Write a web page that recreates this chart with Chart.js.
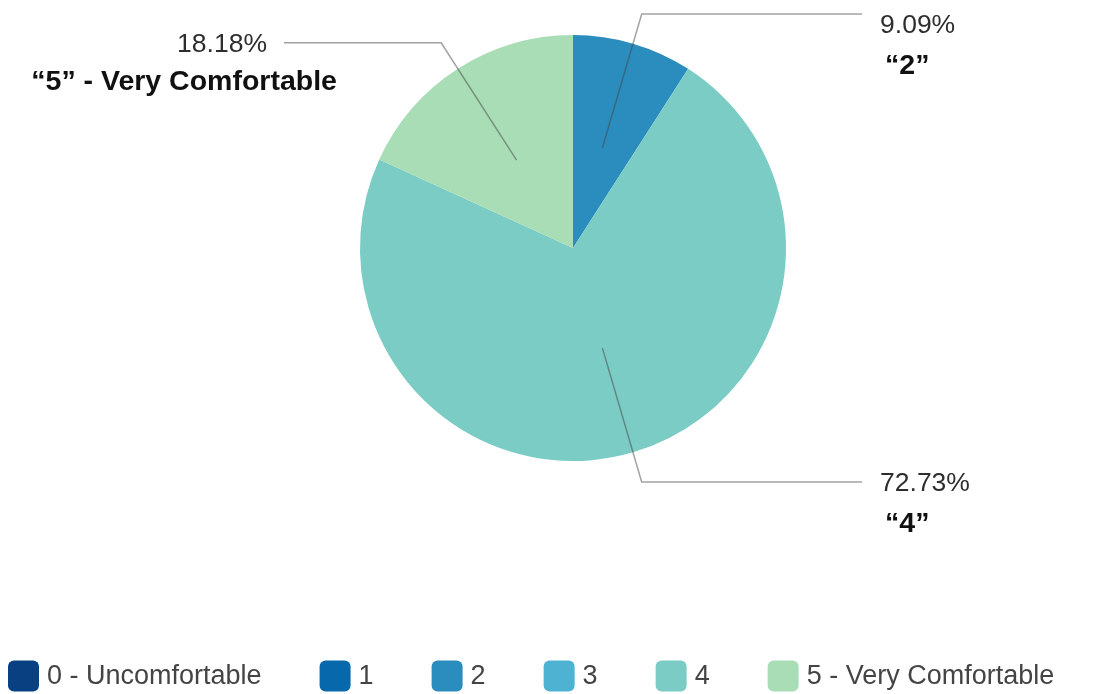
<!DOCTYPE html>
<html>
<head>
<meta charset="utf-8">
<script src="https://cdn.jsdelivr.net/npm/chart.js@4/dist/chart.umd.min.js"></script>
<style>
  html, body { margin: 0; padding: 0; background: #ffffff; }
  #wrap { width: 1107px; height: 694px; position: relative; }
</style>
</head>
<body>
<div id="wrap"><canvas id="c"></canvas></div>
<script>
// ---- data ----
const categories = ['0 - Uncomfortable', '1', '2', '3', '4', '5 - Very Comfortable'];
const shares = [0, 0, 9.09, 0, 72.73, 18.18];
const calloutLabels = ['', '', '\u201C2\u201D', '', '\u201C4\u201D', '\u201C5\u201D - Very Comfortable'];
const sliceColors = ['#084081', '#0868ac', '#2b8cbe', '#4eb3d3', '#7bccc4', '#a8ddb5'];

const FONT = '"Liberation Sans", Arial, Helvetica, sans-serif';

// leader lines + callout texts
const calloutPlugin = {
  id: 'callouts',
  afterDatasetsDraw(chart) {
    const ctx = chart.ctx;
    const meta = chart.getDatasetMeta(0);
    meta.data.forEach((arc, i) => {
      if (!shares[i]) return;
      const p = arc.getProps(['x', 'y', 'startAngle', 'endAngle', 'outerRadius'], true);
      const R = p.outerRadius;
      const a = (p.startAngle + p.endAngle) / 2;
      const c = Math.cos(a), s = Math.sin(a);
      const x1 = p.x + c * R * 0.49, y1 = p.y + s * R * 0.49;
      const x2 = p.x + c * R * 1.145, y2 = p.y + s * R * 1.145;
      const right = c >= 0;
      const x3 = p.x + (right ? 1 : -1) * R * 1.357;
      ctx.save();
      ctx.strokeStyle = 'rgba(70,70,70,0.5)';
      ctx.lineWidth = 1.5;
      ctx.beginPath();
      ctx.moveTo(x1, y1);
      ctx.lineTo(x2, y2);
      ctx.lineTo(x3, y2);
      ctx.stroke();

      const pctY = Math.max(y2, 24) + 2;
      ctx.textBaseline = 'middle';
      ctx.font = '26.5px ' + FONT;
      ctx.fillStyle = '#2e2e2e';
      ctx.textAlign = right ? 'left' : 'right';
      ctx.fillText(shares[i].toFixed(2) + '%', right ? x3 + 18 : x3 - 17, pctY);

      ctx.font = 'bold 28.5px ' + FONT;
      ctx.fillStyle = '#111111';
      if (right) {
        ctx.textAlign = 'left';
        ctx.fillText(calloutLabels[i], x3 + 23, pctY + 40);
      } else {
        ctx.textAlign = 'right';
        ctx.fillText(calloutLabels[i], x3 + 53, pctY + 37);
      }
      ctx.restore();
    });
  }
};

// bottom legend
const legendPlugin = {
  id: 'bottomLegend',
  afterDraw(chart) {
    const ctx = chart.ctx;
    const box = 31, textGap = 8, itemGap = 58;
    const cy = 676;
    let x = 8;
    ctx.save();
    ctx.font = '27px ' + FONT;
    ctx.textBaseline = 'middle';
    ctx.textAlign = 'left';
    categories.forEach((label, i) => {
      ctx.fillStyle = sliceColors[i];
      ctx.beginPath();
      ctx.roundRect(x, cy - box / 2, box, box, 6);
      ctx.fill();
      ctx.fillStyle = '#444444';
      const tx = x + box + textGap;
      ctx.fillText(label, tx, cy + 1);
      x = tx + ctx.measureText(label).width + itemGap;
    });
    ctx.restore();
  }
};

new Chart(document.getElementById('c'), {
  type: 'pie',
  data: {
    labels: categories,
    datasets: [{
      data: shares,
      backgroundColor: sliceColors,
      borderWidth: 0
    }]
  },
  options: {
    responsive: true,
    maintainAspectRatio: false,
    animation: false,
    layout: { padding: { top: 35, bottom: 233, left: 39, right: 0 } },
    plugins: {
      legend: { display: false },
      tooltip: { enabled: false }
    }
  },
  plugins: [calloutPlugin, legendPlugin]
});
</script>
</body>
</html>
